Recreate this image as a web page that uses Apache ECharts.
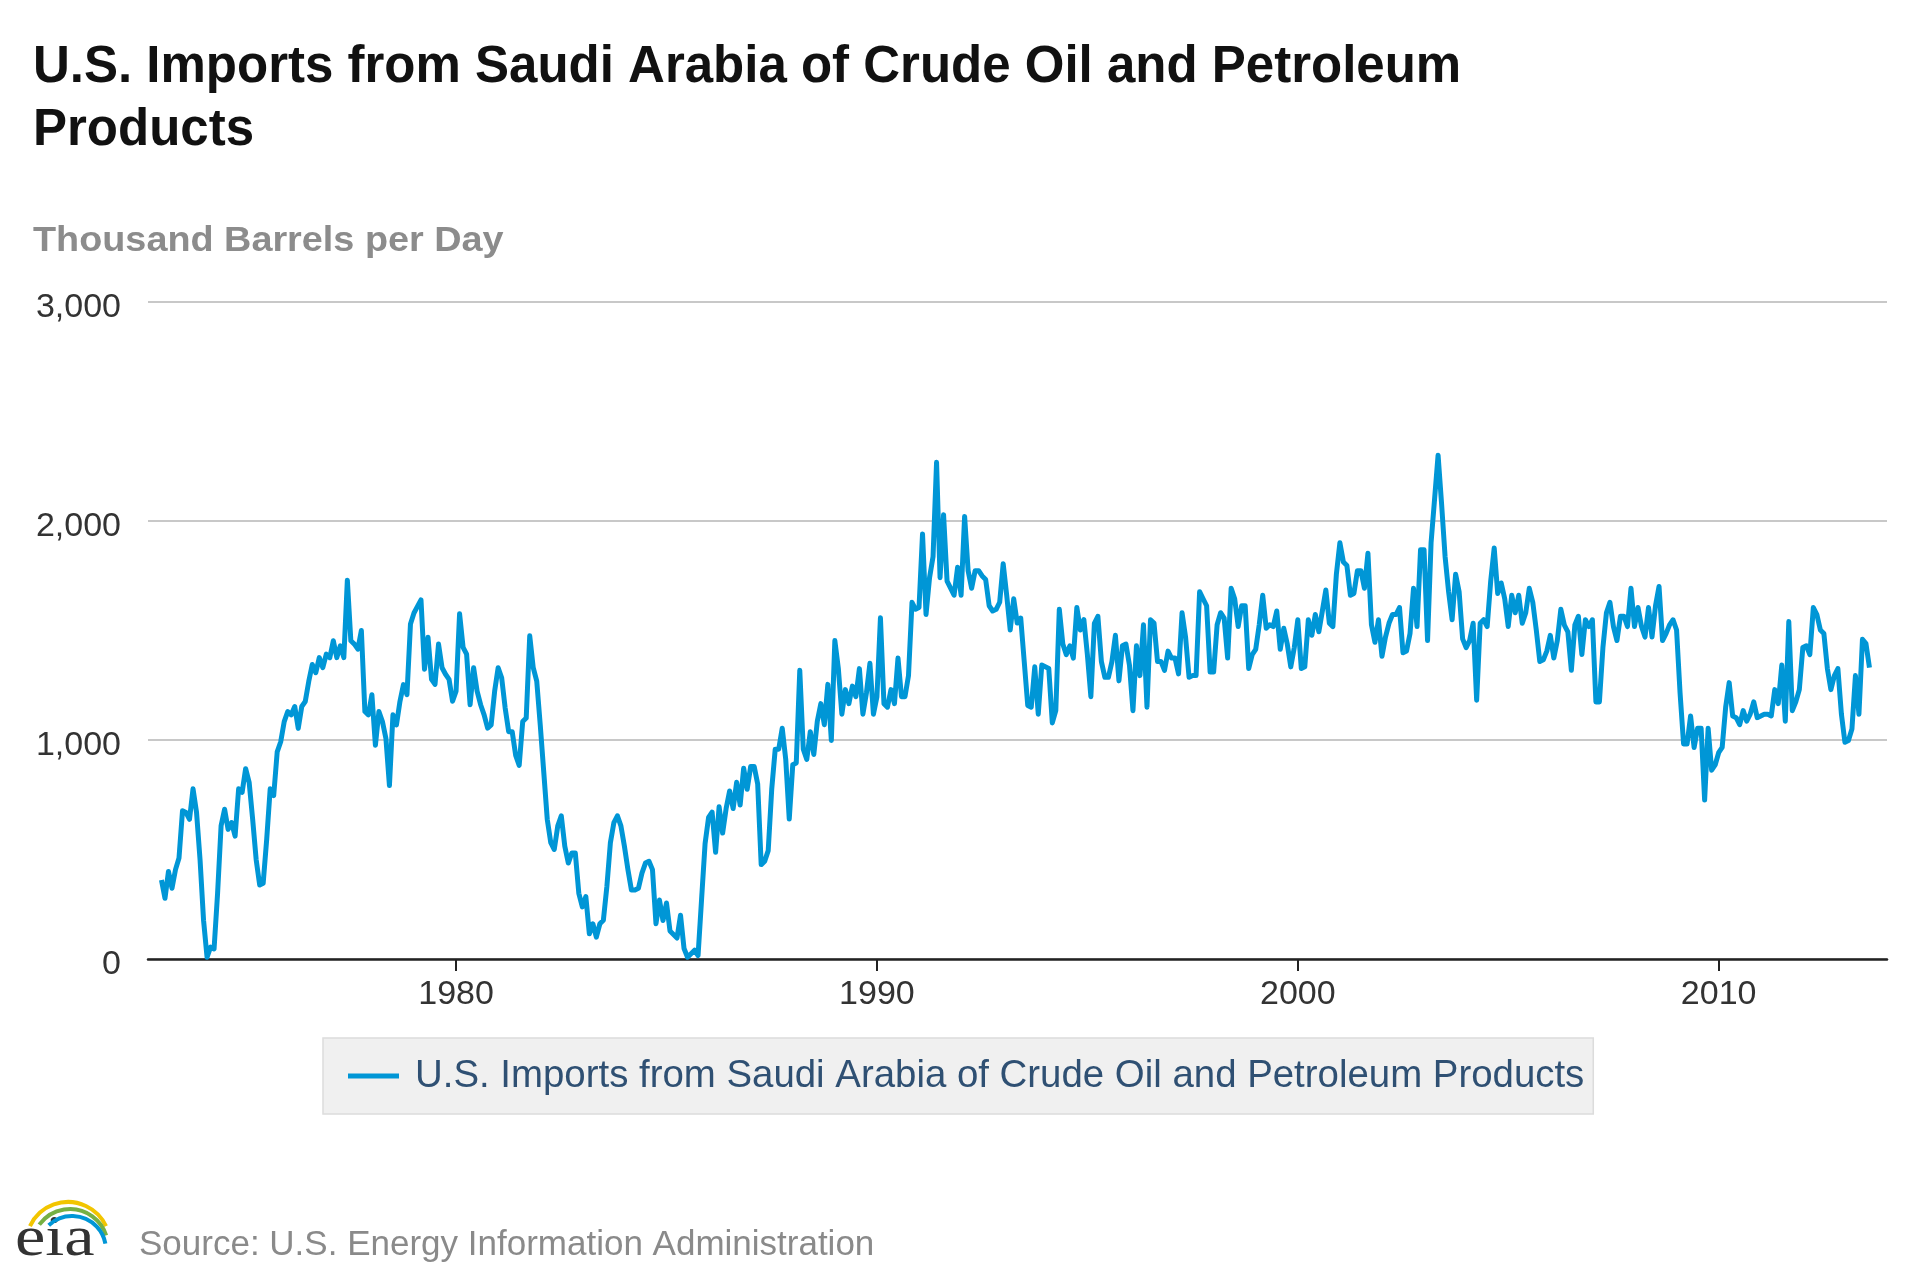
<!DOCTYPE html>
<html>
<head>
<meta charset="utf-8">
<script src="https://cdn.jsdelivr.net/npm/echarts@6/dist/echarts.min.js"></script>
<style>
html,body{margin:0;padding:0;background:#fff;}
#chart{width:1920px;height:1280px;}
</style>
</head>
<body>
<div id="chart"></div>
<script>
// Monthly U.S. imports from Saudi Arabia, thousand barrels per day, Jan 1973 – Aug 2013
const startYear = 1973;
const v1970s = [
  361, 277, 400, 323, 408, 461, 677, 669, 638, 777, 669, 454,
  177, 8, 54, 46, 300, 608, 684, 592, 623, 561, 777, 761,
  869, 807, 638, 454, 338, 346, 546, 777, 746, 946, 992, 1084,
  1130, 1115, 1153, 1053, 1153, 1176, 1268, 1345, 1307, 1376, 1330, 1392,
  1376, 1453, 1376, 1430, 1376, 1730, 1453, 1438, 1415, 1500, 1130, 1115,
  1207, 976, 1130, 1084, 1007, 792, 1115, 1069, 1176, 1253, 1207, 1530,
  1580, 1610, 1640, 1323, 1469, 1277, 1254, 1438, 1330, 1300, 1277, 1177
];
const v1980s = [
  1223, 1577, 1423, 1392, 1161, 1330, 1223, 1161, 1115, 1054, 1069, 1223,
  1330, 1284, 1146, 1038, 1038, 930, 884, 1084, 1100, 1476, 1330, 1269,
  1069, 854, 638, 531, 500, 608, 654, 515, 438, 484, 484, 300,
  238, 285, 115, 161, 100, 161, 177, 331, 531, 623, 654, 608,
  515, 408, 315, 315, 323, 392, 438, 446, 408, 161, 269, 176,
  256, 128, 112, 96, 200, 48, 8, 24, 40, 16, 272, 527,
  647, 671, 487, 695, 575, 687, 767, 687, 807, 703, 871, 775,
  879, 879, 799, 431, 447, 495, 775, 958, 958, 1054, 911, 639,
  887, 895, 1318, 958, 911, 1038, 934, 1086, 1166, 1070, 1254, 998,
  1454, 1326, 1118, 1230, 1166, 1246, 1198, 1326, 1118, 1214, 1350, 1118
];
const v1990s = [
  1198, 1558, 1166, 1150, 1230, 1166, 1374, 1198, 1198, 1294, 1629, 1597,
  1605, 1941, 1573, 1741, 1837, 2268, 1741, 2029, 1725, 1693, 1661, 1789,
  1661, 2021, 1773, 1693, 1773, 1773, 1749, 1733, 1613, 1589, 1597, 1629,
  1805, 1661, 1502, 1645, 1534, 1557, 1358, 1158, 1150, 1334, 1118, 1342,
  1334, 1326, 1078, 1134, 1597, 1438, 1390, 1430, 1374, 1605, 1502, 1550,
  1390, 1198, 1533, 1565, 1358, 1286, 1286, 1358, 1478, 1270, 1430, 1438,
  1342, 1134, 1430, 1294, 1526, 1150, 1549, 1534, 1358, 1358, 1318, 1406,
  1374, 1374, 1302, 1581, 1470, 1286, 1294, 1294, 1677, 1645, 1613, 1310,
  1310, 1526, 1581, 1557, 1374, 1693, 1645, 1518, 1613, 1613, 1326, 1390,
  1414, 1526, 1661, 1510, 1526, 1518, 1589, 1414, 1510, 1438, 1334, 1422
];
const v2000s = [
  1549, 1326, 1334, 1549, 1478, 1573, 1494, 1589, 1685, 1533, 1518, 1757,
  1901, 1813, 1797, 1661, 1669, 1773, 1773, 1693, 1853, 1526, 1446, 1549,
  1382, 1470, 1533, 1573, 1573, 1605, 1398, 1406, 1486, 1693, 1518, 1869,
  1869, 1454, 1900, 2100, 2300, 2078, 1837, 1677, 1549, 1757, 1677, 1462,
  1422, 1454, 1533, 1182, 1533, 1549, 1518, 1725, 1877, 1669, 1717, 1645,
  1518, 1661, 1581, 1661, 1533, 1581, 1693, 1629, 1502, 1358, 1366, 1406,
  1478, 1374, 1454, 1597, 1525, 1494, 1318, 1525, 1565, 1390, 1549, 1518,
  1549, 1174, 1174, 1422, 1581, 1629, 1518, 1454, 1565, 1565, 1518, 1693,
  1518, 1605, 1518, 1470, 1605, 1470, 1613, 1701, 1454, 1486, 1526, 1549,
  1502, 1214, 982, 982, 1110, 966, 1054, 1054, 726, 1054, 862, 886
];
const v2010s = [
  942, 966, 1150, 1262, 1110, 1102, 1070, 1134, 1086, 1118, 1174, 1102,
  1110, 1118, 1118, 1110, 1230, 1166, 1342, 1086, 1541, 1134, 1174, 1230,
  1422, 1430, 1390, 1605, 1573, 1502, 1486, 1326, 1230, 1294, 1326, 1118,
  990, 998, 1050, 1294, 1118, 1460, 1440, 1330
];
const yearTicks = [1980, 1990, 2000, 2010];
const yTicks = [0, 1000, 2000, 3000];
const titleText = 'U.S. Imports from Saudi Arabia of Crude Oil and Petroleum\nProducts';
const seriesName = 'U.S. Imports from Saudi Arabia of Crude Oil and Petroleum Products';
const unitText = 'Thousand Barrels per Day';
const sourceText = 'Source: U.S. Energy Information Administration';

const values = [].concat(v1970s, v1980s, v1990s, v2000s, v2010s);
const points = values.map((v, i) => [startYear + i / 12, v]);

const FONT = '"Liberation Sans", Arial, Helvetica, sans-serif';
const LINE = '#0096d6';

const chart = echarts.init(document.getElementById('chart'), null, {renderer: 'canvas'});
chart.setOption({
  animation: false,
  backgroundColor: '#ffffff',
  title: {
    text: titleText,
    left: 33,
    top: 36,
    padding: 0,
    textStyle: {fontFamily: FONT, fontSize: 51, fontWeight: 'bold', color: '#111', lineHeight: 63}
  },
  grid: {left: 148, right: 33, top: 302, bottom: 321, containLabel: false},
  xAxis: {
    type: 'value',
    min: 1972.68,
    max: 2014,
    axisLine: {show: true, onZero: false, lineStyle: {color: '#222', width: 2.5}},
    axisTick: {show: true, customValues: yearTicks, length: 12, lineStyle: {color: '#222', width: 2}},
    axisLabel: {show: true, customValues: yearTicks, margin: 19, fontFamily: FONT, fontSize: 34, color: '#333', formatter: v => String(Math.round(v))},
    splitLine: {show: false}
  },
  yAxis: {
    type: 'value',
    min: yTicks[0],
    max: yTicks[yTicks.length - 1],
    interval: 1000,
    axisLine: {show: false},
    axisTick: {show: false},
    axisLabel: {
      margin: 27, fontFamily: FONT, fontSize: 34, color: '#333',
      formatter: v => '{a|' + v.toLocaleString('en-US') + '}',
      rich: {a: {fontFamily: FONT, fontSize: 34, color: '#333', padding: [12, 0, 0, 0]}}
    },
    splitLine: {show: true, lineStyle: {color: '#c8c8c8', width: 2}}
  },
  legend: {
    show: true,
    left: 323,
    top: 1038,
    backgroundColor: '#f0f0f0',
    borderColor: '#dcdcdc',
    borderWidth: 1.5,
    borderRadius: 0,
    padding: [19, 9, 19, 25],
    itemWidth: 51,
    itemHeight: 5,
    icon: 'rect',
    textStyle: {fontFamily: FONT, fontSize: 38.4, color: '#2f5073', padding: [0, 0, 0, 11]},
    data: [{name: seriesName, icon: 'rect'}]
  },
  series: [{
    name: seriesName,
    type: 'line',
    data: points,
    showSymbol: false,
    symbol: 'none',
    lineStyle: {color: LINE, width: 5, join: 'round'},
    itemStyle: {color: LINE}
  }],
  graphic: [
    {type: 'text', x: 33, y: 241, scaleX: 1.08, style: {text: unitText, font: 'bold 35px ' + FONT, fill: '#8c8c8c', align: 'left', verticalAlign: 'middle'}},
    {type: 'text', x: 139, y: 1245, style: {text: sourceText, font: '35px ' + FONT, fill: '#8a8a8a', align: 'left', verticalAlign: 'middle'}},
    {type: 'text', x: 15, y: 1268, scaleX: 1.22, style: {text: 'eia', font: '56px "Liberation Serif", "DejaVu Serif", serif', fill: '#333', align: 'left', verticalAlign: 'bottom'}},
    {type: 'arc', shape: {cx: 68, cy: 1244, r: 42, startAngle: -Math.PI * 0.86, endAngle: -Math.PI * 0.14, clockwise: true}, style: {stroke: '#f2c500', lineWidth: 4, fill: null}},
    {type: 'arc', shape: {cx: 70, cy: 1247, r: 38, startAngle: -Math.PI * 0.8, endAngle: -Math.PI * 0.1, clockwise: true}, style: {stroke: '#76b043', lineWidth: 4, fill: null}},
    {type: 'arc', shape: {cx: 72, cy: 1250, r: 34, startAngle: -Math.PI * 0.74, endAngle: -Math.PI * 0.06, clockwise: true}, style: {stroke: '#0096d6', lineWidth: 4, fill: null}}
  ]
});
</script>
</body>
</html>
